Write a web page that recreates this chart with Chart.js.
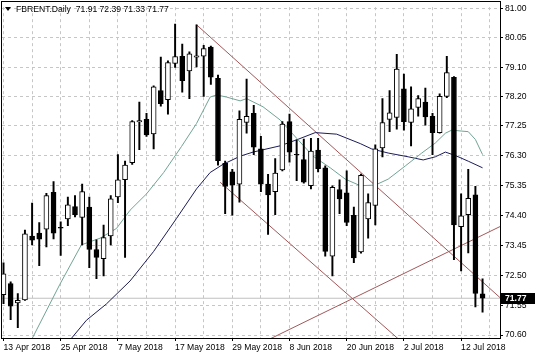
<!DOCTYPE html>
<html><head><meta charset="utf-8">
<script src="https://cdn.jsdelivr.net/npm/chart.js@4.4.1/dist/chart.umd.min.js"></script>
<style>html,body{margin:0;padding:0;background:#fff;overflow:hidden}#wrap{width:536px;height:357px;position:relative}</style>
</head><body><div id="wrap"><canvas id="c" width="536" height="357"></canvas></div>
<script>
const symbolName = 'FBRENT.Daily';
const opens  = [71.88,72.24,71.62,71.72,73.75,73.84,73.97,75.14,74.03,74.29,74.69,74.34,74.67,73.32,73.03,73.75,74.99,75.54,76.08,77.38,77.46,77.00,78.38,78.09,79.24,79.47,79.00,79.44,79.47,79.76,78.77,76.06,75.79,75.40,77.36,77.65,76.52,75.40,75.16,75.85,77.39,76.35,76.18,75.35,76.48,75.92,73.11,75.23,75.12,74.41,73.24,74.29,74.72,76.55,77.46,77.52,78.43,77.36,77.84,78.01,77.56,77.04,78.19,78.80,74.05,74.43,75.06,71.91];
const highs  = [72.90,72.29,71.92,73.94,74.80,74.18,75.11,75.48,74.20,74.99,75.04,75.40,74.99,73.63,74.10,75.04,76.34,76.13,77.42,78.01,77.65,78.53,79.44,79.32,80.49,79.86,79.61,80.47,79.82,79.79,78.87,76.13,75.87,77.73,78.74,77.91,76.92,75.71,76.21,77.39,77.63,76.81,76.83,76.86,76.86,75.98,75.35,75.54,75.82,74.67,75.72,75.09,76.65,78.12,78.38,79.53,78.90,78.50,78.22,78.46,77.65,78.27,79.47,78.82,75.09,75.87,75.33,72.39];
const lows   = [71.60,71.09,70.83,71.70,73.47,72.81,73.40,73.66,73.13,74.08,74.36,73.47,72.74,72.39,72.48,73.47,74.81,73.07,76.03,76.50,76.92,76.52,77.88,77.63,79.11,78.33,78.12,79.13,78.19,78.57,76.00,74.46,74.41,74.83,77.02,76.34,75.16,73.80,74.43,75.82,76.10,75.51,75.43,75.25,75.79,73.11,72.48,74.46,74.08,72.90,73.20,73.68,74.10,76.27,77.07,77.15,77.12,76.62,77.56,77.28,76.34,77.02,78.15,73.00,72.64,73.21,71.49,71.33];
const closes = [72.55,71.52,71.70,73.82,73.62,73.65,75.04,73.84,74.00,74.74,74.43,75.16,73.32,73.07,73.70,74.93,75.54,76.01,77.39,77.42,76.97,78.50,77.96,79.27,79.46,78.69,79.55,79.48,79.71,78.80,76.15,75.33,75.37,77.46,77.56,76.58,75.40,75.06,75.75,77.31,76.42,76.33,75.46,76.45,75.89,73.26,75.30,74.93,74.18,73.05,75.68,74.81,76.52,77.36,77.67,79.06,77.39,77.80,78.12,77.54,77.04,78.19,78.95,74.10,74.39,74.95,71.92,71.77];
const xTickLabels = ['13 Apr 2018','25 Apr 2018','7 May 2018','17 May 2018','29 May 2018','8 Jun 2018','20 Jun 2018','2 Jul 2018','12 Jul 2018'];
const yTickValues = [70.60,71.55,72.50,73.45,74.40,75.35,76.30,77.25,78.20,79.10,80.05,81.00];
// moving averages: [bar index, price]
const maFast = [[3.9,70.44],[7.9,72.22],[10.9,73.47],[13.5,73.68],[15.8,73.99],[17.7,74.57],[20.0,75.09],[22.4,75.77],[24.9,76.60],[27.0,77.33],[28.9,78.17],[29.8,78.24],[31.2,78.17],[33.1,78.05],[34.0,78.12],[36.3,77.86],[38.7,77.44],[41.0,76.86],[43.3,76.29],[45.7,75.92],[47.8,75.56],[49.9,75.35],[52.0,75.37],[53.8,75.56],[56.2,75.98],[58.5,76.39],[60.4,76.71],[61.8,77.02],[62.7,77.12],[64.0,77.09],[65.0,77.07],[66.0,76.82],[67.0,76.34]];
const maSlow = [[9.3,70.44],[11.6,71.07],[14.4,71.59],[17.7,72.32],[21.0,73.26],[24.2,74.31],[27.0,75.25],[28.9,75.77],[30.7,76.03],[33.1,76.29],[34.9,76.42],[38.7,76.62],[41.0,76.81],[43.6,77.04],[46.6,76.99],[49.9,76.69],[51.5,76.52],[53.8,76.39],[56.6,76.27],[58.7,76.17],[60.4,76.27],[61.8,76.42],[63.2,76.31],[65.0,76.13],[67.0,75.92]];
const trendUpper  = [[27.0,80.47],[69.44,71.79]];
const trendLower  = [[30.3,75.46],[56.0,70.32]];
const trendRising = [[37.4,70.49],[69.44,74.05]];
const lastPrice = 71.77;

const FONT = '"Liberation Sans", Arial, sans-serif';
const idx = opens.map((_, i) => i);
const up = idx.map(i => closes[i] >= opens[i]);
const pts = a => a.map(([x, y]) => ({x, y}));
const lineDs = (data, color, order) => ({type:'line', data: pts(data), borderColor: color, borderWidth: 1, pointRadius: 0, tension: 0, order});

const chart = new Chart(document.getElementById('c'), {
  type: 'bar',
  data: {
    datasets: [
      {type:'bar', data: idx.map(i => ({x: i, y: [opens[i], closes[i]]})), backgroundColor: up.map(u => u ? '#ffffff' : '#000000'), borderColor: '#000', borderWidth: 1, borderSkipped: false, barThickness: 5, grouped: false, order: 0},
      {type:'bar', data: idx.map(i => ({x: i, y: [lows[i], highs[i]]})), backgroundColor: '#000', borderWidth: 0, barThickness: 1.3, grouped: false, order: 1},
      lineDs(maFast, '#72a396', 2),
      lineDs(maSlow, '#1c1c58', 2),
      lineDs(trendUpper, '#a2585a', 2),
      lineDs(trendLower, '#a2585a', 2),
      lineDs(trendRising, '#a2585a', 2),
      lineDs([[-1, lastPrice], [71, lastPrice]], '#c0c0c0', 5)
    ]
  },
  options: {
    responsive: false, animation: false, devicePixelRatio: 1,
    layout: {padding: {left: 2, top: 2, right: 0, bottom: 0}},
    plugins: {legend: {display: false}, tooltip: {enabled: false}},
    scales: {
      x: {
        type: 'linear', min: -0.21, max: 69.44, offset: false,
        afterBuildTicks: s => { const t = []; for (let i = 0; i <= 68; i += 4) t.push({value: i}); s.ticks = t; },
        afterFit: s => { s.height = 19; },
        ticks: {autoSkip: false, maxRotation: 0, minRotation: 0, align: 'start', padding: 1, color: '#000', font: {family: FONT, size: 8.6},
          callback: v => (v % 8 === 0 && xTickLabels[v / 8]) ? xTickLabels[v / 8] : ''},
        grid: {offset: false, color: '#c6c6c6', lineWidth: 1, tickLength: 3, drawTicks: true,
          tickColor: c => (c.tick && c.tick.value % 8 === 0) ? '#000' : 'rgba(0,0,0,0)'},
        border: {display: false, dash: [3, 3]}
      },
      y: {
        position: 'right', min: 70.505, max: 81.031,
        afterBuildTicks: s => { s.ticks = yTickValues.map(v => ({value: v})); },
        afterFit: s => { s.width = 36; },
        ticks: {autoSkip: false, padding: 2, color: '#000', font: {family: FONT, size: 8.6}, callback: v => Number(v).toFixed(2)},
        grid: {color: '#c6c6c6', lineWidth: 1, tickLength: 3, drawTicks: true, tickColor: '#000'},
        border: {display: false, dash: [3, 3]}
      }
    }
  },
  plugins: [{
    id: 'mt4deco',
    afterDraw(ch) {
      const ctx = ch.ctx, a = ch.chartArea, ys = ch.scales.y;
      ctx.save();
      ctx.strokeStyle = '#000'; ctx.lineWidth = 1;
      ctx.strokeRect(1.5, 1.5, 499, 337);
      // price label
      const py = Math.round(ys.getPixelForValue(lastPrice));
      ctx.fillStyle = '#000';
      ctx.fillRect(501, py - 5, 34, 11);
      ctx.fillStyle = '#fff';
      ctx.font = 'bold 8.6px ' + FONT;
      ctx.textBaseline = 'middle'; ctx.textAlign = 'left';
      ctx.fillText(lastPrice.toFixed(2), 505, py + 0.5);
      // title
      const n = opens.length - 1;
      ctx.fillStyle = '#000';
      ctx.beginPath(); ctx.moveTo(5, 7); ctx.lineTo(11, 7); ctx.lineTo(8, 11); ctx.closePath(); ctx.fill();
      ctx.font = '8.6px ' + FONT;
      ctx.fillText(symbolName + '  ' + [opens[n], highs[n], lows[n], closes[n]].map(v => v.toFixed(2)).join(' '), 16, 9.5);
      ctx.restore();
    }
  }]
});
</script></body></html>
